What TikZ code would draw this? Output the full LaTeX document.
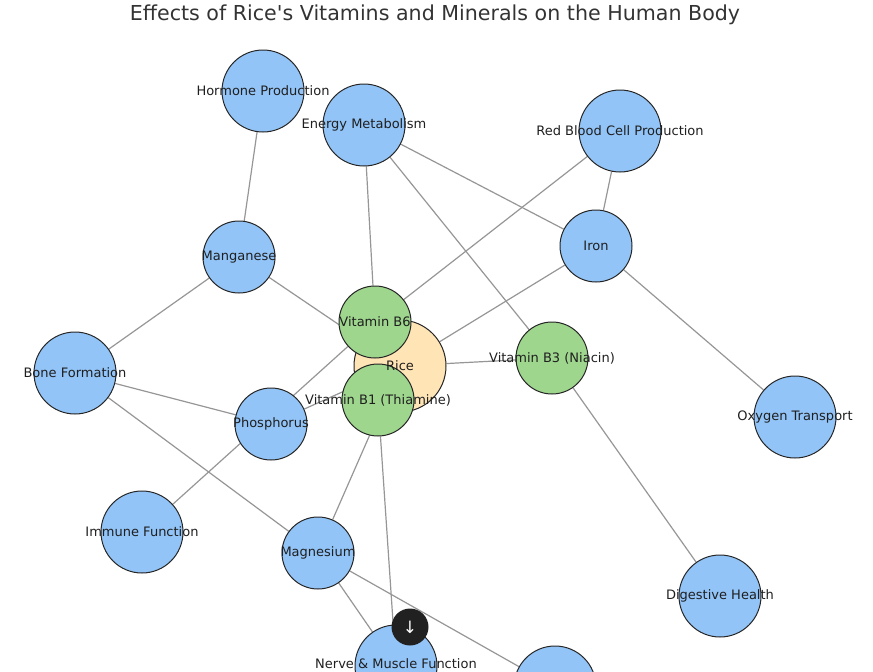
\documentclass[tikz,border=0pt]{standalone}
\usepackage{fontspec}
\setmainfont{DejaVu Sans}
\usepackage{xcolor}
\usepackage{tikz}
\usetikzlibrary{positioning}

\definecolor{effectblue}{RGB}{146,196,247}
\definecolor{vitgreen}{RGB}{158,214,142}
\definecolor{ricecream}{RGB}{255,228,181}
\definecolor{edgegray}{RGB}{150,150,150}
\definecolor{btndark}{RGB}{33,33,33}

\pgfdeclarelayer{background}
\pgfsetlayers{background,main}

\begin{document}
\begin{tikzpicture}[
    x=1pt, y=-1pt,
    every node/.style={font=\fontsize{13}{15}\selectfont, text=black!88},
    effect/.style={circle, draw=black!85, fill=effectblue, line width=1pt, minimum size=82pt, inner sep=0pt},
    mineral/.style={circle, draw=black!85, fill=effectblue, line width=1pt, minimum size=72pt, inner sep=0pt},
    vitamin/.style={circle, draw=black!85, fill=vitgreen, line width=1pt, minimum size=72pt, inner sep=0pt},
    source/.style={circle, draw=black!85, fill=ricecream, line width=1pt, minimum size=92pt, inner sep=0pt},
    link/.style={draw=edgegray, line width=1.2pt}
]
\useasboundingbox (0,0) rectangle (873,672);
\clip (0,0) rectangle (873,672);

% Title
\node[font=\fontsize{20.6}{24}\selectfont, text=black!80] (title) at (435,15) {Effects of Rice\textquotesingle s Vitamins and Minerals on the Human Body};

% Effects
\node[effect] (hormone) at (263,91) {};
\node[effect] (energy) at (364,125) {};
\node[effect] (redcell) at (620,131) {};
\node[effect] (bone) at (75,373) {};
\node[effect] (oxygen) at (795,417) {};
\node[effect] (immune) at (142,532) {};
\node[effect] (digest) at (720,596) {};
\node[effect] (nerve) at (396,666) {};
\node[effect] (lower) at (555,687) {};

% Minerals
\node[mineral] (manganese) at (239,257) {};
\node[mineral] (iron) at (596,246) {};
\node[mineral] (phosphorus) at (271,424) {};
\node[mineral] (magnesium) at (318,553) {};

% Rice and vitamins
\node[source] (rice) at (400,366) {};
\node[vitamin] (vitbsix) at (375,322) {};
\node[vitamin] (vitbthree) at (552,358) {};
\node[vitamin] (vitbone) at (378,400) {};

% Labels
\node (hormone-txt) at (hormone) {Hormone Production};
\node (energy-txt) at (energy) {Energy Metabolism};
\node (redcell-txt) at (redcell) {Red Blood Cell Production};
\node (bone-txt) at (bone) {Bone Formation};
\node (oxygen-txt) at (oxygen) {Oxygen Transport};
\node (immune-txt) at (immune) {Immune Function};
\node (digest-txt) at (digest) {Digestive Health};
\node[inner ysep=1pt] (nerve-txt) at (396,664) {Nerve \& Muscle Function};
\node (manganese-txt) at (manganese) {Manganese};
\node (iron-txt) at (iron) {Iron};
\node (phosphorus-txt) at (phosphorus) {Phosphorus};
\node (magnesium-txt) at (magnesium) {Magnesium};
\node (rice-txt) at (rice) {Rice};
\node (vitbsix-txt) at (vitbsix) {Vitamin B6};
\node (vitbthree-txt) at (vitbthree) {Vitamin B3 (Niacin)};
\node (vitbone-txt) at (vitbone) {Vitamin B1 (Thiamine)};

% Scroll button
\node[circle, fill=btndark, minimum size=37pt, inner sep=0pt, text=white, font=\fontsize{17}{17}\selectfont] (scroll) at (410,627) {↓};

% Edges
\begin{pgfonlayer}{background}
\draw[link] (hormone) -- (manganese);
\draw[link] (energy) -- (vitbsix);
\draw[link] (energy) -- (iron);
\draw[link] (energy) -- (vitbthree);
\draw[link] (redcell) -- (iron);
\draw[link] (redcell) -- (vitbsix);
\draw[link] (iron) -- (rice);
\draw[link] (iron) -- (oxygen);
\draw[link] (manganese) -- (rice);
\draw[link] (manganese) -- (bone);
\draw[link] (immune) -- (vitbsix);
\draw[link] (phosphorus) -- (rice);
\draw[link] (bone) -- (phosphorus);
\draw[link] (bone) -- (magnesium);
\draw[link] (rice) -- (vitbthree);
\draw[link] (rice) -- (vitbsix);
\draw[link] (rice) -- (vitbone);
\draw[link] (magnesium) -- (rice);
\draw[link] (vitbone) -- (nerve);
\draw[link] (magnesium) -- (nerve);
\draw[link] (magnesium) -- (lower);
\draw[link] (vitbthree) -- (digest);
\end{pgfonlayer}

\end{tikzpicture}
\end{document}
